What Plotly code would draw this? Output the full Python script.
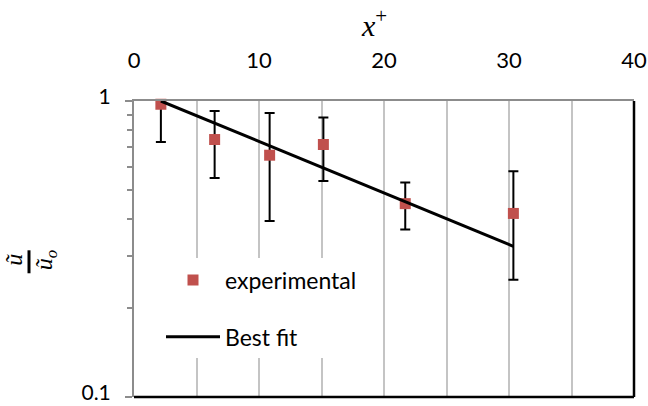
import plotly.graph_objects as go

# ---- data ----
x_plus = [2.15, 6.45, 10.85, 15.15, 21.7, 30.35]
u_ratio = [0.975, 0.741, 0.656, 0.713, 0.450, 0.417]
err_high = [1.25, 0.925, 0.911, 0.879, 0.530, 0.579]
err_low = [0.727, 0.549, 0.393, 0.537, 0.368, 0.249]

fit_x = [2.15, 30.35]
fit_y = [1.0, 0.323]

x_ticks = [0, 10, 20, 30, 40]
x_minor = [5, 15, 25, 35]
y_ticks = [0.1, 1]
y_ticktext = ["0.1", "1"]
y_minor = [0.2, 0.3, 0.4, 0.5, 0.6, 0.7, 0.8, 0.9]

err_plus = [h - v for h, v in zip(err_high, u_ratio)]
err_minus = [v - l for v, l in zip(u_ratio, err_low)]

FONT = "Lato"
GRID = "#C4C4C4"
AXIS = "#8C8C8C"

fig = go.Figure()

fig.add_trace(go.Scatter(
    x=x_plus, y=u_ratio, mode="markers", name="experimental",
    legendgroup="a",
    marker=dict(symbol="square", size=11, color="#C0504D"),
    error_y=dict(type="data", symmetric=False, array=err_plus, arrayminus=err_minus,
                 color="black", thickness=2, width=5),
    cliponaxis=False,
))

fig.add_trace(go.Scatter(
    x=fit_x, y=fit_y, mode="lines", name="Best fit", legendgroup="b",
    line=dict(color="black", width=3),
))

fig.update_layout(
    width=648, height=406,
    margin=dict(l=134, r=14, t=101, b=9, autoexpand=False),
    paper_bgcolor="white", plot_bgcolor="white",
    font=dict(family=FONT, size=22, color="black"),
    showlegend=True,
    legend=dict(
        x=0.054, y=0.468, xanchor="left", yanchor="top",
        bgcolor="white", borderwidth=0,
        font=dict(family=FONT, size=23, color="black"),
        tracegroupgap=24, itemwidth=54,
    ),
    xaxis=dict(
        side="top", range=[0, 40], tickmode="array", tickvals=x_ticks,
        showgrid=True, gridcolor=GRID, gridwidth=1.5,
        showline=True, linecolor=AXIS, linewidth=2,
        ticks="", ticklabelstandoff=22, automargin=False,
        tickfont=dict(family=FONT, size=22), ticklabeloverflow="allow",
        minor=dict(tickvals=x_minor, showgrid=True, gridcolor=GRID, gridwidth=1.5, ticks=""),
        zeroline=False,
    ),
    yaxis=dict(
        type="log", range=[-1, 0], tickmode="array", tickvals=y_ticks, ticktext=y_ticktext,
        showgrid=False, showline=True, linecolor=AXIS, linewidth=2,
        ticks="outside", ticklen=7, tickwidth=2, tickcolor=AXIS,
        ticklabelstandoff=10, ticklabelshift=-4, automargin=False, ticklabeloverflow="allow",
        tickfont=dict(family=FONT, size=21),
        minor=dict(tickvals=y_minor, ticks="outside", ticklen=5, tickwidth=2, tickcolor=AXIS, showgrid=False),
        zeroline=False,
    ),
    shapes=[
        dict(type="line", xref="paper", yref="paper", x0=0, x1=1, y0=0, y1=0,
             line=dict(color="black", width=2.5)),
        dict(type="line", xref="paper", yref="paper", x0=1, x1=1, y0=0, y1=1,
             line=dict(color="black", width=2.5)),
        dict(type="line", xref="paper", yref="paper", x0=-0.21, x1=-0.21, y0=0.418, y1=0.4956,
             line=dict(color="black", width=3)),
    ],
    annotations=[
        dict(text="<i>x</i><sup>+</sup>", xref="paper", yref="paper", x=0.48, y=1.265,
             showarrow=False, xanchor="center", yanchor="middle",
             font=dict(family="Liberation Serif", size=30)),
        dict(text="<i>ũ</i>", xref="paper", yref="paper", x=-0.239, y=0.462,
             showarrow=False, textangle=-90, xanchor="center", yanchor="middle",
             font=dict(family="Liberation Serif", size=24)),
        dict(text="<i>ũ<sub>o</sub></i>", xref="paper", yref="paper", x=-0.177, y=0.460,
             showarrow=False, textangle=-90, xanchor="center", yanchor="middle",
             font=dict(family="Liberation Serif", size=24)),
    ],
)

fig.write_html("out.html", post_script="document.body.style.margin='0';",
               config={"displayModeBar": False})
